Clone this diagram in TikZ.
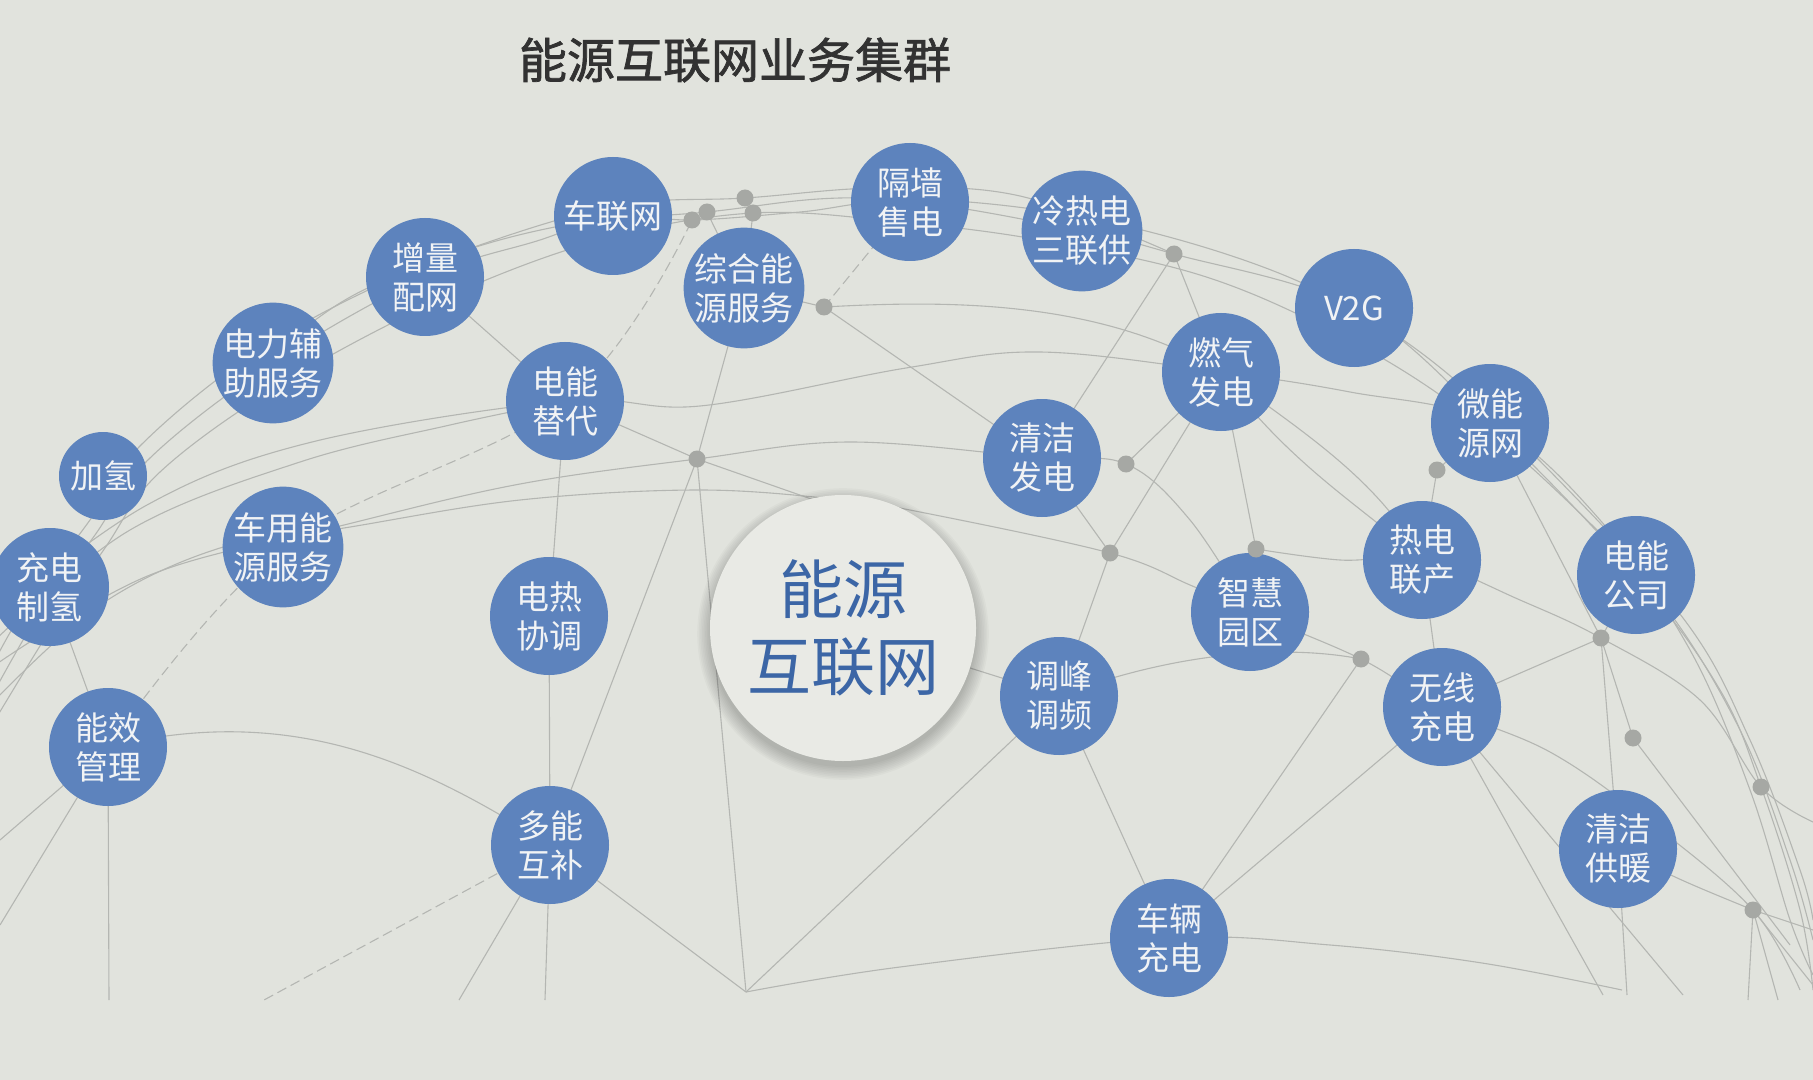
\documentclass[tikz,border=0pt]{standalone}
\usepackage{fontspec}
\setmainfont{Noto Sans CJK SC}
\newfontfamily\titlefont[FakeBold=1.5]{Noto Sans CJK SC}
\definecolor{bgc}{RGB}{225,227,221}
\definecolor{bub}{RGB}{93,131,189}
\definecolor{bubtxt}{RGB}{241,243,245}
\definecolor{wirec}{RGB}{180,182,178}
\definecolor{dotc}{RGB}{166,168,164}
\definecolor{hubfill}{RGB}{233,234,229}
\definecolor{hubtxt}{RGB}{60,102,166}
\definecolor{titc}{RGB}{50,50,50}
\pgfdeclarelayer{wires}
\pgfsetlayers{wires,main}
\begin{document}
\begin{tikzpicture}[x=0.5pt,y=-0.5pt,
  bubble/.style={circle, fill=bub, text=bubtxt, minimum size=59pt, inner sep=0pt, align=center,
    font=\fontsize{16.5}{19.5}\selectfont},
  smallbubble/.style={bubble, minimum size=44pt},
  hub/.style={circle, fill=hubfill, text=hubtxt, minimum size=133pt, inner sep=0pt, align=center,
    font=\fontsize{32}{38.5}\selectfont},
  hubshadow/.style={fill=black, opacity=0.022},
  dotn/.style={circle, fill=dotc, minimum size=8.5pt, inner sep=0pt},
  wire/.style={draw=wirec, line width=0.55pt},
  wdash/.style={wire, dash pattern=on 5pt off 2.5pt},
  curvy/.style={smooth, tension=0.6}]
\useasboundingbox (0,0) rectangle (1813,1080);

% title
\node[font=\titlefont\fontsize{24}{28}\selectfont, text=titc] (title) at (735,60) {能源互联网业务集群};

% hub shadow (soft, below)
\coordinate (hubsh) at (843,634);
\foreach \r in {66.5,67.3,68.1,68.9,69.7,70.5,71.3,72.1,72.9} {
  \fill[hubshadow] (hubsh) circle[radius=\r pt];
}
% hub
\node[hub] (hub) at (843,628) {能源\\互联网};

% bubbles
\node[bubble] (chelian) at (613,216) {车联网};
\node[bubble] (zengliang) at (425,277) {增量\\配网};
\node[bubble] (dianli) at (273,363) {电力辅\\助服务};
\node[smallbubble] (jiaqing) at (103,476) {加氢};
\node[bubble] (chongdian) at (50,587) {充电\\制氢};
\node[bubble] (cheyong) at (283,547) {车用能\\源服务};
\node[bubble] (nengxiao) at (108,747) {能效\\管理};
\node[bubble] (dianneng) at (565,401) {电能\\替代};
\node[bubble] (zonghe) at (744,288) {综合能\\源服务};
\node[bubble] (geqiang) at (910,202) {隔墙\\售电};
\node[bubble] (lengre) at (1082,231) {冷热电\\三联供};
\node[bubble] (vtog) at (1354,308) {V2G};
\node[bubble] (ranqi) at (1221,372) {燃气\\发电};
\node[bubble] (qingjie) at (1042,458) {清洁\\发电};
\node[bubble] (weineng) at (1490,423) {微能\\源网};
\node[bubble] (redian) at (1422,560) {热电\\联产};
\node[bubble] (diangs) at (1636,575) {电能\\公司};
\node[bubble] (zhihui) at (1250,612) {智慧\\园区};
\node[bubble] (dianre) at (549,616) {电热\\协调};
\node[bubble] (tiaofeng) at (1059,696) {调峰\\调频};
\node[bubble] (wuxian) at (1442,707) {无线\\充电};
\node[bubble] (gongnuan) at (1618,849) {清洁\\供暖};
\node[bubble] (duoneng) at (550,845) {多能\\互补};
\node[bubble] (cheliang) at (1169,938) {车辆\\充电};

% dots
\node[dotn] (p1) at (692,220) {};
\node[dotn] (p2) at (707,212) {};
\node[dotn] (p3) at (745,198) {};
\node[dotn] (p4) at (753,213) {};
\node[dotn] (p5) at (824,307) {};
\node[dotn] (p6) at (1174,254) {};
\node[dotn] (p7) at (697,459) {};
\node[dotn] (p8) at (1126,464) {};
\node[dotn] (p9) at (1437,470) {};
\node[dotn] (p10) at (1110,553) {};
\node[dotn] (p11) at (1256,549) {};
\node[dotn] (p12) at (1361,659) {};
\node[dotn] (p13) at (1601,638) {};
\node[dotn] (p14) at (1633,738) {};
\node[dotn] (p15) at (1761,787) {};
\node[dotn] (p16) at (1753,910) {};

% free ends
\coordinate (b1) at (109,1000);
\coordinate (b2) at (459,1000);
\coordinate (b3) at (545,1000);
\coordinate (b4) at (264,1000);
\coordinate (v1) at (746,992);
\coordinate (b5) at (1627,995);
\coordinate (b6) at (1603,995);
\coordinate (b7) at (1683,995);
\coordinate (b8) at (1748,1000);
\coordinate (b9) at (1778,1000);
\coordinate (b10) at (1813,985);
\coordinate (b11) at (1790,945);
\coordinate (e1) at (0,840);
\coordinate (e2) at (0,925);
\coordinate (e3) at (1813,930);
\coordinate (c2) at (814,500);

\begin{pgfonlayer}{wires}
\fill[bgc] (0,0) rectangle (1813,1080);
% dome bundle
\draw[wire] plot[curvy] coordinates {(-5,690) (40,612) (95,535) (150,458) (dianli.center) (zengliang.center) (540,240) (chelian.center) (p1.center) (800,212) (geqiang.center) (lengre.center) (p6.center) (vtog.center) (weineng.center) (diangs.center) (1720,690) (p15.center) (1800,910) (1813,990)};
\draw[wire] plot[curvy] coordinates {(-5,720) (50,630) (105,548) (160,472) (280,385) (440,300) (600,240) (p4.center) (900,222) (1040,240) (1200,275) (1330,330) (1440,395) (1545,480) (1660,600) (1740,730) (1790,860) (1813,940)};
\draw[wire] plot[curvy] coordinates {(-5,660) (30,600) (90,520) (140,446) (262,348) (418,268) (560,226) (p2.center) (840,198) (1000,205) (1150,232) (1300,282) (1420,352) (1537,458) (1683,618) (1750,740) (1800,870) (1813,920)};
\draw[wire] plot[curvy] coordinates {(230,390) (345,300) (480,245) (620,205) (p3.center) (880,188) (1020,196) (p6.center)};
% latitude arcs
\draw[wire] plot[curvy] coordinates {(-5,615) (147,505) (312,442) (dianneng.center) (700,406) (906,368) (1040,352) (ranqi.center) (1350,392) (weineng.center) (1600,520) (1690,650) (1750,790) (1790,920) (1813,975)};
\draw[wire] plot[curvy] coordinates {(-5,640) (130,530) (300,462) (450,425) (dianneng.center)};
\draw[wire] plot[curvy] coordinates {(-5,665) (150,575) (344,525) (520,484) (p7.center) (850,442) (qingjie.center) (p8.center) (1190,520) (zhihui.center)};
\draw[wire] plot[curvy] coordinates {(-5,700) (100,605) (220,548) (344,528) (520,500) (700,490) (843,500) (920,512) (p10.center) (1190,585) (zhihui.center) (p12.center) (wuxian.center) (1550,752) (1650,822) (p16.center) (1800,990)};
\draw[wire] plot[curvy] coordinates {(p11.center) (1340,560) (redian.center) (1520,600) (p13.center) (1700,700) (p15.center) (1813,822)};
\draw[wire] plot[curvy] coordinates {(v1) (900,967) (cheliang.center) (1330,945) (1482,963) (1622,990)};
\draw[wire] (nengxiao.center) .. controls (300,700) and (430,770) .. (duoneng.center);
% left part
\draw[wire] (chongdian.center) -- (nengxiao.center);
\draw[wire] (nengxiao.center) -- (b1);
\draw[wire] (nengxiao.center) -- (e1);
\draw[wire] (nengxiao.center) -- (e2);
\draw[wdash] plot[curvy] coordinates {(nengxiao.center) (cheyong.center) (dianneng.center) (p1.center)};
\draw[wire] (zengliang.center) -- (dianneng.center);
\draw[wire] (dianneng.center) -- (dianre.center) -- (duoneng.center);
\draw[wire] (dianneng.center) -- (p7.center);
\draw[wire] (zonghe.center) -- (p7.center);
\draw[wire] (p2.center) -- (zonghe.center);
\draw[wire] (p4.center) -- (zonghe.center);
\draw[wire] (p7.center) -- (c2);
\draw[wire] (p7.center) -- (duoneng.center);
\draw[wire] (p7.center) -- (v1);
% bottom
\draw[wire] (duoneng.center) -- (b2);
\draw[wire] (duoneng.center) -- (b3);
\draw[wire] (duoneng.center) -- (v1);
\draw[wdash] (duoneng.center) -- (b4);
\draw[wire] (v1) -- (tiaofeng.center);
\draw[wire] (hub.center) -- (tiaofeng.center);
\draw[wire] (tiaofeng.center) -- (cheliang.center);
\draw[wire] (tiaofeng.center) .. controls (1180,650) and (1290,645) .. (p12.center);
\draw[wire] (cheliang.center) -- (p12.center);
\draw[wire] (cheliang.center) -- (wuxian.center);
% middle right
\draw[wire] (p5.center) -- (qingjie.center);
\draw[wire] (p5.center) -- (zonghe.center);
\draw[wdash] (p5.center) -- (geqiang.center);
\draw[wire] (p5.center) .. controls (950,300) and (1100,300) .. (ranqi.center);
\draw[wire] (p6.center) -- (ranqi.center);
\draw[wire] (p6.center) -- (qingjie.center);
\draw[wire] (qingjie.center) -- (p10.center);
\draw[wire] (p8.center) -- (ranqi.center);
\draw[wire] (ranqi.center) -- (p10.center) -- (tiaofeng.center);
\draw[wire] (ranqi.center) -- (p11.center) -- (zhihui.center);
\draw[wire] (ranqi.center) .. controls (1300,430) and (1380,480) .. (redian.center);
\draw[wire] (ranqi.center) .. controls (1290,465) and (1360,505) .. (redian.center);
% right
\draw[wire] (weineng.center) -- (p9.center) -- (redian.center) -- (wuxian.center);
\draw[wire] (weineng.center) -- (p13.center);
\draw[wire] (diangs.center) -- (p13.center);
\draw[wire] (wuxian.center) -- (p13.center);
\draw[wire] (p13.center) -- (gongnuan.center) -- (b5);
\draw[wire] (p13.center) -- (p14.center) -- (b11);
\draw[wire] (gongnuan.center) .. controls (1680,880) .. (p16.center) -- (e3);
\draw[wire] (p16.center) -- (b8);
\draw[wire] (p16.center) -- (b9);
\draw[wire] (p16.center) -- (b10);
\draw[wire] (wuxian.center) -- (b6);
\draw[wire] (wuxian.center) -- (b7);
\end{pgfonlayer}
\end{tikzpicture}
\end{document}
